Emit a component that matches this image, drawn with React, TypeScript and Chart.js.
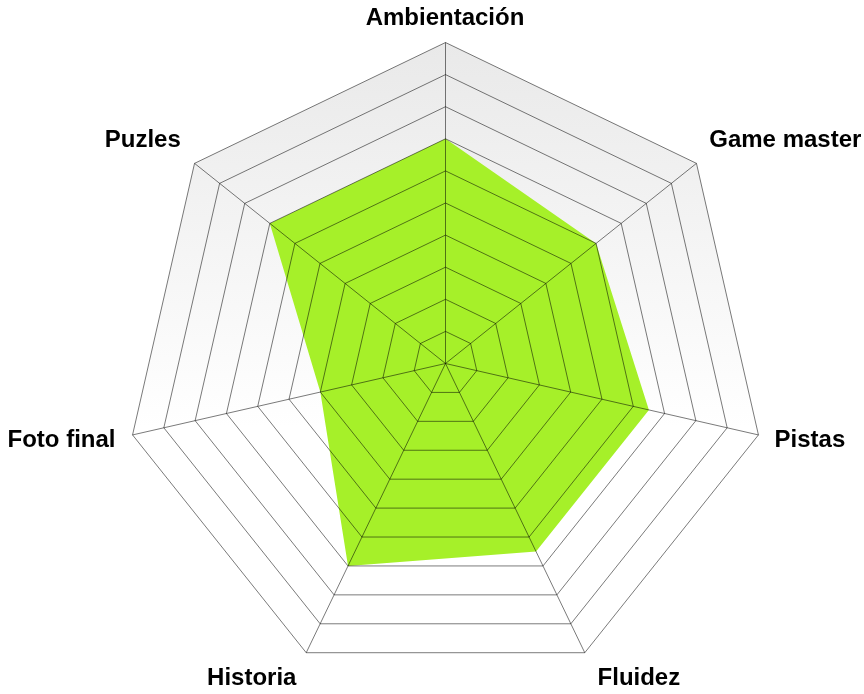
import React, { useEffect, useRef } from "react";
import { Chart, registerables } from "chart.js";

Chart.register(...registerables);

const categories: string[] = [
  "Ambientación",
  "Game master",
  "Pistas",
  "Fluidez",
  "Historia",
  "Foto final",
  "Puzles",
];
const scores: number[] = [7, 6, 6.5, 6.5, 7, 4, 7];
const scaleMin = 0;
const scaleMax = 10;
const scaleStep = 1;

const LABEL_FONT = "bold 24px 'Liberation Sans', Arial, sans-serif";

const crispPlugin = {
  id: "crispShift",
  beforeDraw(chart: any) {
    chart.ctx.save();
    chart.ctx.translate(0.5, 0.5);
  },
  afterDraw(chart: any) {
    chart.ctx.restore();
  },
};

const bgPlugin = {
  id: "radarGradientBg",
  beforeDatasetsDraw(chart: any) {
    const scale = chart.scales.r;
    if (!scale) return;
    const ctx = chart.ctx;
    const n = categories.length;
    ctx.save();
    ctx.beginPath();
    for (let i = 0; i < n; i++) {
      const p = scale.getPointPositionForValue(i, scale.max);
      if (i === 0) ctx.moveTo(p.x, p.y);
      else ctx.lineTo(p.x, p.y);
    }
    ctx.closePath();
    const top = scale.yCenter - scale.drawingArea;
    const bottom = scale.yCenter + scale.drawingArea;
    const g = ctx.createLinearGradient(0, top, 0, bottom);
    g.addColorStop(0, "#e9e9e9");
    g.addColorStop(0.6, "#ffffff");
    g.addColorStop(1, "#ffffff");
    ctx.fillStyle = g;
    ctx.fill();
    ctx.restore();
  },
};

const labelPlugin = {
  id: "radarLabels",
  afterDraw(chart: any) {
    const scale = chart.scales.r;
    if (!scale) return;
    const ctx = chart.ctx;
    const R = scale.drawingArea;
    ctx.save();
    ctx.font = LABEL_FONT;
    ctx.fillStyle = "#000";
    ctx.textBaseline = "alphabetic";
    categories.forEach((label, i) => {
      const unit = scale.getPointPosition(i, 1);
      const sx = unit.x - scale.xCenter;
      const up = scale.yCenter - unit.y;
      let gap = 17;
      let dy = 0;
      let dx = 0;
      if (up < -0.3) {
        gap = 26;
        dy = 9.7;
        dx = sx > 0 ? 2 : 2;
      } else if (up <= 0.3) {
        dy = 8.7;
      } else if (Math.abs(sx) > 0.05) {
        dy = -5;
      }
      const p = scale.getPointPosition(i, R + gap);
      ctx.textAlign = Math.abs(sx) < 0.05 ? "center" : sx > 0 ? "left" : "right";
      ctx.fillText(label, p.x + dx, p.y + dy);
    });
    ctx.restore();
  },
};

export default function App() {
  const ref = useRef<HTMLCanvasElement | null>(null);
  useEffect(() => {
    document.body.style.margin = "0";
    const chart = new Chart(ref.current as HTMLCanvasElement, {
      type: "radar",
      data: {
        labels: categories,
        datasets: [
          {
            data: scores,
            backgroundColor: "rgb(166,240,41)",
            borderWidth: 0,
            pointRadius: 0,
            fill: true,
          },
        ],
      },
      options: {
        animation: false,
        responsive: true,
        maintainAspectRatio: false,
        plugins: { legend: { display: false }, tooltip: { enabled: false } },
        layout: { padding: { left: 95, right: 69, top: 42, bottom: 10 } },
        scales: {
          r: {
            min: scaleMin,
            max: scaleMax,
            ticks: { display: false, stepSize: scaleStep },
            grid: { color: "rgba(0,0,0,0.52)", lineWidth: 1, z: 1 } as any,
            angleLines: { color: "rgba(0,0,0,0.52)", lineWidth: 1 },
            pointLabels: { display: false },
          },
        },
      },
      plugins: [crispPlugin, bgPlugin, labelPlugin],
    });
    return () => chart.destroy();
  }, []);
  return (
    <div style={{ width: 864, height: 694, position: "relative" }}>
      <canvas ref={ref} />
    </div>
  );
}
